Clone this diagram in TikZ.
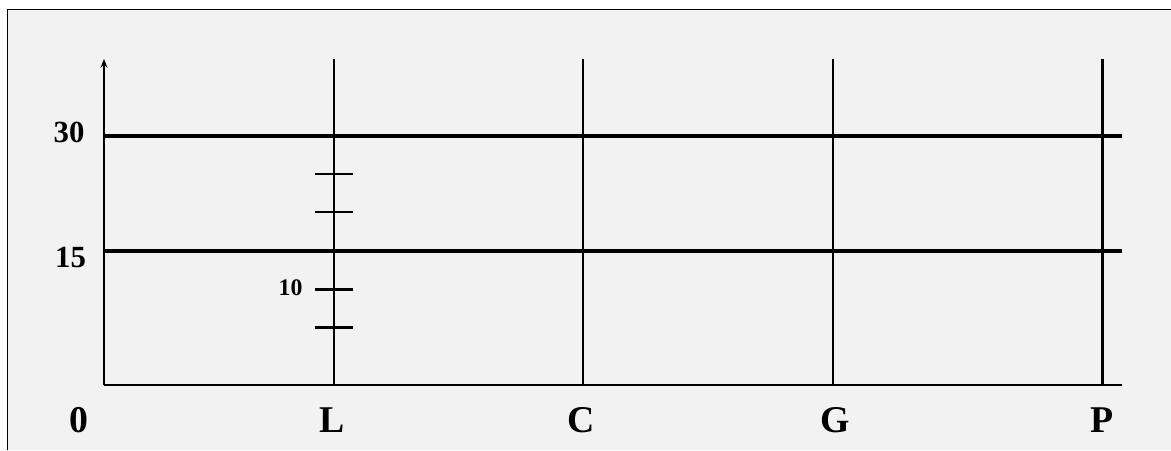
\documentclass[tikz,border=0pt]{standalone}
\usepackage{fontspec}
\setmainfont{Liberation Serif}
\usetikzlibrary{arrows.meta}
\definecolor{panelgray}{HTML}{F2F2F2}
\begin{document}
\begin{tikzpicture}[scale=1.0, every node/.style={font=\bfseries},
    thinline/.style={line width=1.4pt},
    thickline/.style={line width=2.8pt}]
  \useasboundingbox (-2.08,-1.30) rectangle (21.34,7.70);
  % Panel background, cut off at right and bottom
  \fill[panelgray] (-1.93,-1.30) rectangle (21.34,7.51);
  \draw[line width=0.9pt] (-1.93,-1.30) -- (-1.93,7.51) -- (21.34,7.51);
  % Axes
  \coordinate (origin) at (0,0);
  \coordinate (ytop) at (0,6.52);
  \coordinate (xend) at (20.36,0);
  \draw[thinline, -{Stealth[length=5pt,width=4pt]}] (origin) -- (ytop);
  \draw[thinline] (origin) -- (xend);
  % Columns with their labels
  \foreach \x/\name in {4.60/L, 9.58/C, 14.58/G, 19.97/P} {
    \draw[thinline] (\x,0) -- (\x,6.52);
  }
  \node[font=\bfseries\fontsize{21.5}{24}\selectfont] (zero) at (-0.51,-0.70) {0};
  \node[font=\bfseries\fontsize{21.5}{24}\selectfont] (colL) at (4.56,-0.70) {L};
  \node[font=\bfseries\fontsize{21.5}{24}\selectfont] (colC) at (9.55,-0.70) {C};
  \node[font=\bfseries\fontsize{21.5}{24}\selectfont] (colG) at (14.62,-0.70) {G};
  \node[font=\bfseries\fontsize{21.5}{24}\selectfont] (colP) at (19.96,-0.70) {P};
  % Thick levels
  \draw[thickline] (0,4.98) -- (20.36,4.98);
  \draw[thickline] (0,2.68) -- (20.36,2.68);
  \node[font=\bfseries\fontsize{17.5}{20}\selectfont] (lvl30) at (-0.70,5.05) {30};
  \node[font=\bfseries\fontsize{17.5}{20}\selectfont] (lvl15) at (-0.67,2.55) {15};
  % Ticks on L
  \foreach \y in {4.22, 3.46, 1.91, 1.15} {
    \draw[thinline] (4.22,\y) -- (4.98,\y);
  }
  \node[font=\bfseries\fontsize{13.5}{16}\selectfont] (tick10) at (3.73,1.94) {10};
\end{tikzpicture}
\end{document}
